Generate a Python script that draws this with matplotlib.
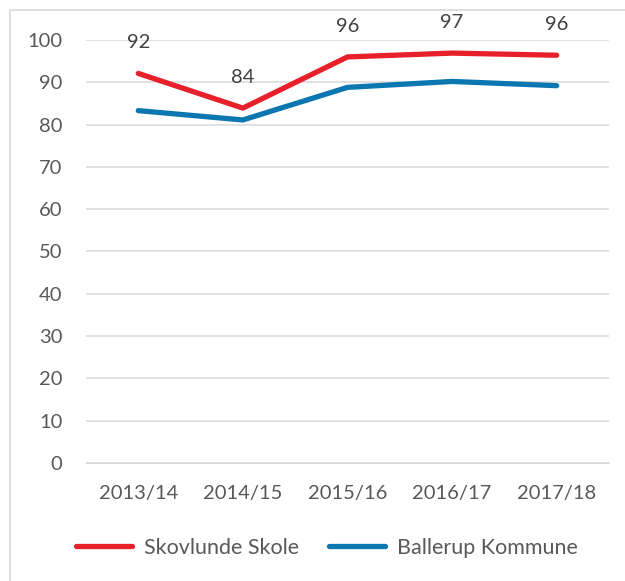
import matplotlib
matplotlib.use("Agg")
import matplotlib.pyplot as plt
from matplotlib.patches import Rectangle

categories = ["2013/14", "2014/15", "2015/16", "2016/17", "2017/18"]
skovlunde = [92.1, 83.9, 96.0, 96.9, 96.4]
ballerup = [83.3, 81.1, 88.8, 90.2, 89.2]
skovlunde_labels = ["92", "84", "96", "97", "96"]
yticks = [0, 10, 20, 30, 40, 50, 60, 70, 80, 90, 100]

plt.rcParams['font.family'] = ['Lato', 'DejaVu Sans']
text_color = "#595959"
red = "#E8202A"
blue = "#0A77B0"
fs = 14.5

fig = plt.figure(figsize=(6.25, 5.81), dpi=100)
fig.patches.append(Rectangle((10/625, -0.1), 1.2, 1 - 10/581 + 0.1, transform=fig.transFigure,
                             fill=False, edgecolor="#d9d9d9", linewidth=1.2))
ax = fig.add_axes([86/625, 118/581, 523/625, 423/581])
x = list(range(len(categories)))
ax.plot(x, skovlunde, color=red, linewidth=3.8, solid_capstyle='round', label="Skovlunde Skole", zorder=3)
ax.plot(x, ballerup, color=blue, linewidth=3.8, solid_capstyle='round', label="Ballerup Kommune", zorder=3)
for xi, v, lab in zip(x, skovlunde, skovlunde_labels):
    ax.annotate(lab, (xi, v), xytext=(0, 22), textcoords="offset points", ha="center", va="center",
                fontsize=fs, color="#404040")

ax.set_xlim(-0.5, len(categories) - 0.5)
ax.set_ylim(0, 100)
ax.set_yticks(yticks)
ax.set_xticks(x)
ax.set_xticklabels(categories)
ax.grid(axis='y', color="#d9d9d9", linewidth=1.1)
ax.set_axisbelow(True)
for s in ax.spines.values():
    s.set_visible(False)
ax.tick_params(axis='both', length=0, labelsize=fs, colors=text_color)
ax.tick_params(axis='y', pad=17)
ax.tick_params(axis='x', pad=16)
ax.spines['bottom'].set_visible(True)
ax.spines['bottom'].set_color("#d9d9d9")

leg = fig.legend(loc="center", bbox_to_anchor=(0.523, (581 - 548) / 581), ncol=2, frameon=False,
                 fontsize=15.5, handlelength=2.6, columnspacing=1.4, handletextpad=0.55)
for t in leg.get_texts():
    t.set_color(text_color)

fig.savefig("out.png", dpi=100, facecolor="white")
